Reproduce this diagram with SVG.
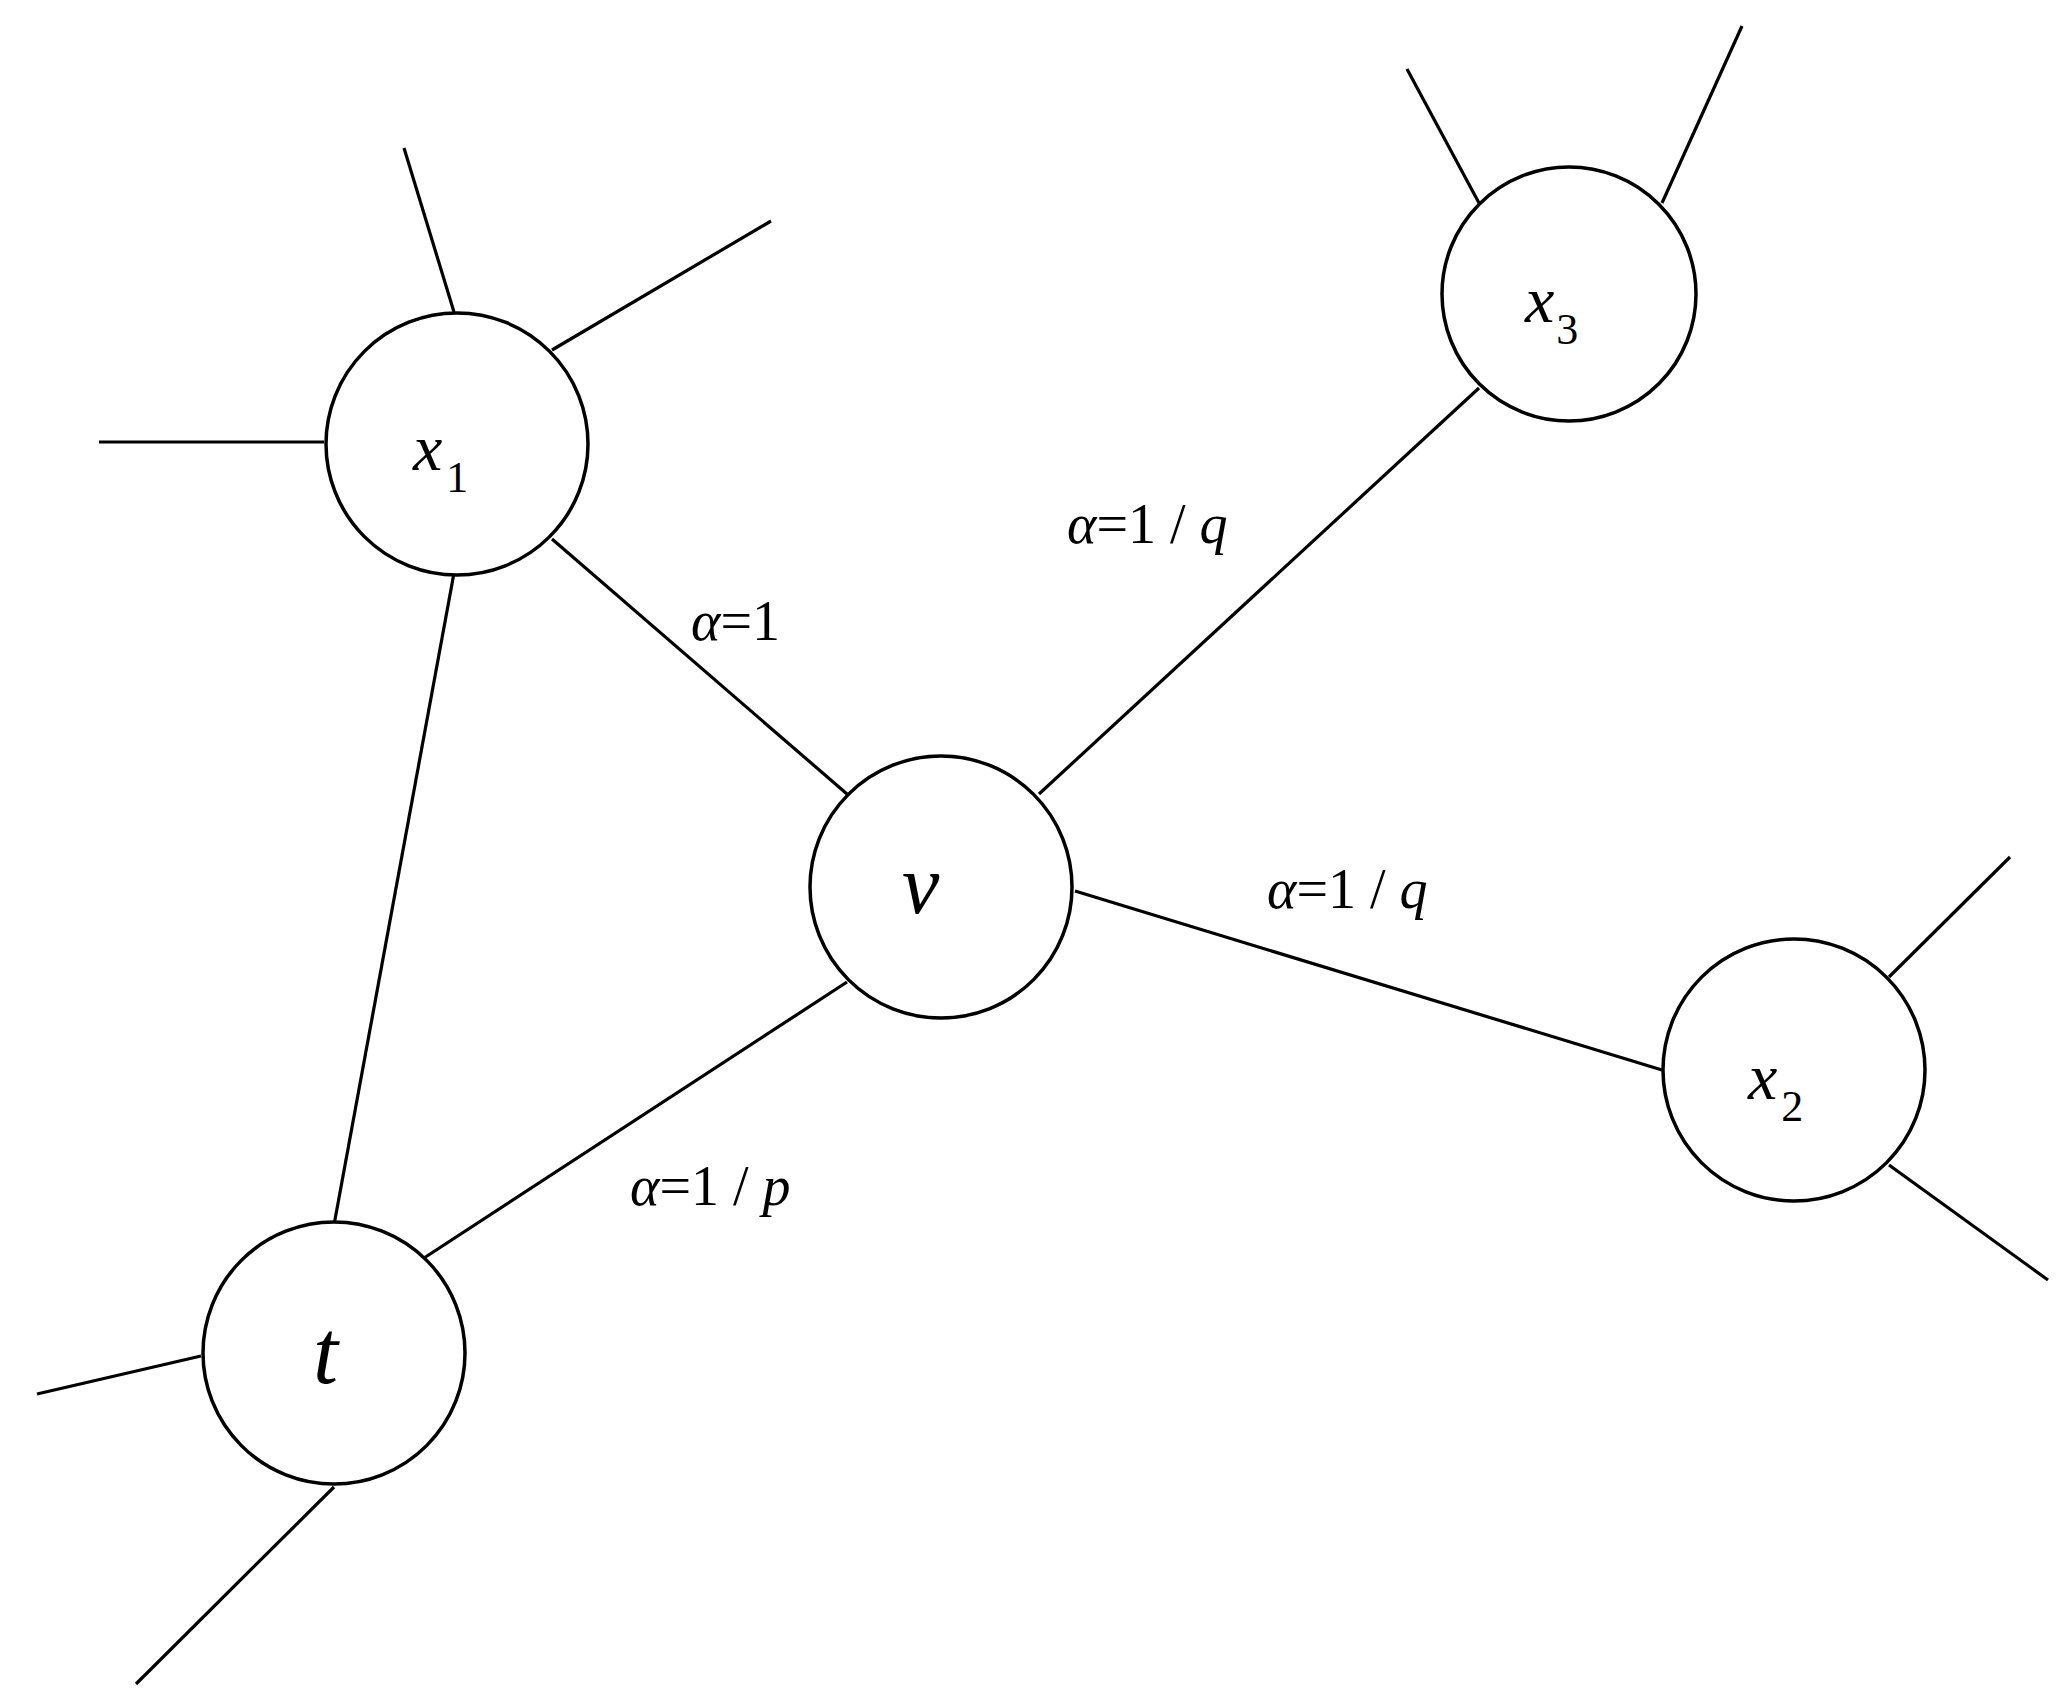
<svg xmlns="http://www.w3.org/2000/svg" width="2066" height="1703" viewBox="0 0 2066 1703">
<style>
.n{fill:#fff;stroke:#000;stroke-width:3.5}
.e line{stroke:#000;stroke-width:3.2}
.t{font-family:"Liberation Serif",serif;font-style:italic;fill:#000}
.lb{font-family:"Liberation Serif",serif;font-size:56px;fill:#000}
.s{font-style:normal;font-size:44px}
</style>
<rect width="2066" height="1703" fill="#fff"/>
<g id="connectors" class="e">
<line x1="404" y1="148" x2="454" y2="312"/>
<line x1="552" y1="350" x2="771" y2="221"/>
<line x1="99" y1="442" x2="324" y2="442"/>
<line x1="552" y1="539" x2="847" y2="794"/>
<line x1="454" y1="573" x2="334" y2="1225"/>
<line x1="1039" y1="794" x2="1479" y2="388"/>
<line x1="1407" y1="69" x2="1479" y2="203"/>
<line x1="1662" y1="203" x2="1742" y2="26"/>
<line x1="1075" y1="891" x2="1662" y2="1070"/>
<line x1="1889" y1="977" x2="2010" y2="857"/>
<line x1="1889" y1="1165" x2="2048" y2="1280"/>
<line x1="847" y1="982" x2="424" y2="1258"/>
<line x1="37" y1="1394" x2="201" y2="1356"/>
<line x1="334" y1="1487" x2="136" y2="1684"/>
</g>
<g id="labels" class="lb">
<text x="691" y="640"><tspan font-style="italic">α</tspan>=1</text>
<text x="1067" y="543"><tspan font-style="italic">α</tspan>=1 / <tspan font-style="italic">q</tspan></text>
<text x="1267" y="908"><tspan font-style="italic">α</tspan>=1 / <tspan font-style="italic">q</tspan></text>
<text x="630" y="1205"><tspan font-style="italic">α</tspan>=1 / <tspan font-style="italic">p</tspan></text>
</g>
<g id="x1"><circle class="n" cx="457" cy="444" r="131"/><text class="t" x="413" y="470" font-size="66">x<tspan class="s" dx="4" dy="22">1</tspan></text></g>
<g id="x3"><circle class="n" cx="1569" cy="294" r="127"/><text class="t" x="1525" y="322" font-size="66">x<tspan class="s" dx="2" dy="22">3</tspan></text></g>
<g id="v"><circle class="n" cx="941" cy="887" r="131"/><text class="t" x="902" y="913" font-size="84">v</text></g>
<g id="x2"><circle class="n" cx="1794" cy="1070" r="131"/><text class="t" x="1748" y="1099" font-size="66">x<tspan class="s" dx="4" dy="22">2</tspan></text></g>
<g id="t"><circle class="n" cx="334" cy="1353" r="131"/><text class="t" x="313" y="1383" font-size="90">t</text></g>
</svg>
